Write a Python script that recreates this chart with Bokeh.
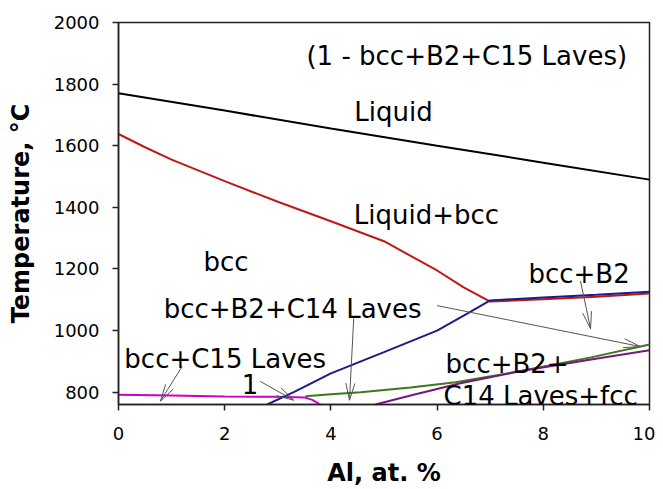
import math
from bokeh.plotting import figure
from bokeh.models import Range1d, FixedTicker, Label
from bokeh.embed import file_html
from bokeh.resources import INLINE

# ---- data ----
liquidus_x = [0, 2, 4, 6, 8, 10]
liquidus_t = [1770, 1714, 1656, 1600, 1545, 1490]

solidus_x = [0, 0.5, 1, 2, 3, 4, 5, 6, 6.5, 7, 8, 9, 10]
solidus_t = [1638, 1595, 1555, 1485, 1418, 1355, 1290, 1195, 1140, 1094, 1102, 1110, 1120]

b2_x = [2.8, 3.3, 4, 5, 6, 6.6, 7, 8, 9, 10]
b2_t = [760, 800, 861, 930, 1000, 1058, 1098, 1107, 1116, 1126]

c15_x = [0, 1, 2, 3, 3.5, 3.65, 3.8]
c15_t = [792, 789, 786, 785, 783, 775, 760]

c14_x = [3.52, 4, 4.56, 5.5, 6.35, 7.5, 8.9, 10]
c14_t = [787, 793, 800, 815, 832, 866, 913, 955]

fcc_x = [4.84, 5.5, 6.44, 7.5, 8.9, 10]
fcc_t = [760, 789, 829, 866, 906, 936]

x_ticks = [0, 2, 4, 6, 8, 10]
y_ticks = [800, 1000, 1200, 1400, 1600, 1800, 2000]

labels_text = ["(1 - bcc+B2+C15 Laves)", "Liquid", "Liquid+bcc", "bcc", "bcc+B2",
               "bcc+B2+C14 Laves", "bcc+C15 Laves", "1", "bcc+B2+", "C14 Laves+fcc"]
labels_x = [3.54, 4.44, 4.43, 1.6, 7.72, 0.85, 0.11, 2.32, 6.16, 6.12]
labels_y = [1892, 1709, 1376, 1221, 1182, 1069, 907, 826, 891, 786]

arrow_x0 = [1.2, 2.67, 4.43, 6.0, 8.7]
arrow_y0 = [884, 835, 1040, 1081, 1161]
arrow_x1 = [0.79, 3.3, 4.35, 9.83, 8.89]
arrow_y1 = [771, 774, 774, 948, 1006]

FONT = "DejaVu Sans"
X0, X1, Y0, Y1 = 0, 10, 760, 2000
W, H = 655, 489
BL, BR, BT, BB = 118, 6, 22, 84

p = figure(width=W, height=H, output_backend="svg", toolbar_location=None,
           x_range=Range1d(X0, X1), y_range=Range1d(Y0, Y1),
           min_border_left=BL, min_border_top=BT, min_border_right=BR, min_border_bottom=BB)
p.background_fill_color = "white"
p.border_fill_color = "white"
p.outline_line_color = "#222222"
p.outline_line_width = 1.5
p.xgrid.visible = False
p.ygrid.visible = False

for ax, ticks in ((p.xaxis, x_ticks), (p.yaxis, y_ticks)):
    ax.ticker = FixedTicker(ticks=ticks)
    ax.minor_tick_line_color = None
    ax.major_tick_out = 6
    ax.major_tick_in = 0
    ax.axis_line_color = "#222222"
    ax.axis_line_width = 1.5
    ax.major_tick_line_color = "#222222"
    ax.major_tick_line_width = 1.5
    ax.major_label_text_font = FONT
    ax.major_label_text_font_size = "18px"
    ax.major_label_text_color = "black"
    ax.axis_label_text_font = FONT
    ax.axis_label_text_font_size = "24px"
    ax.axis_label_text_font_style = "bold"
    ax.axis_label_text_color = "black"

p.xaxis.axis_label = "Al, at. %"
p.yaxis.axis_label = "Temperature, °C"
p.xaxis.major_label_standoff = 16
p.yaxis.major_label_standoff = 13
p.xaxis.axis_label_standoff = 16
p.yaxis.axis_label_standoff = 16

p.line(liquidus_x, liquidus_t, line_color="#000000", line_width=2)
p.line(solidus_x, solidus_t, line_color="#c01818", line_width=2)
p.line(c15_x, c15_t, line_color="#c800c8", line_width=2)
p.line(c14_x, c14_t, line_color="#3a7a1c", line_width=2)
p.line(fcc_x, fcc_t, line_color="#76167e", line_width=2)
p.line(b2_x, b2_t, line_color="#1c1c88", line_width=2)

# arrows: shaft + narrow open head, head computed in screen pixels
sx = (W - BL - BR) / (X1 - X0)
sy = (H - BT - BB) / (Y1 - Y0)
HEAD_LEN, HEAD_HALF = 17.0, 4.5
sx0, sy0, sx1, sy1 = [], [], [], []
for xa, ya, xb, yb in zip(arrow_x0, arrow_y0, arrow_x1, arrow_y1):
    sx0.append(xa); sy0.append(ya); sx1.append(xb); sy1.append(yb)
    dx, dy = (xb - xa) * sx, (yb - ya) * sy
    n = math.hypot(dx, dy)
    ux, uy = dx / n, dy / n
    for side in (1, -1):
        hx = -HEAD_LEN * ux + side * HEAD_HALF * (-uy)
        hy = -HEAD_LEN * uy + side * HEAD_HALF * ux
        sx0.append(xb); sy0.append(yb)
        sx1.append(xb + hx / sx); sy1.append(yb + hy / sy)
p.segment(sx0, sy0, sx1, sy1, line_color="#555555", line_width=1)

for t, x, y in zip(labels_text, labels_x, labels_y):
    p.add_layout(Label(x=x, y=y, text=t, text_font=FONT, text_font_size="26px",
                       text_color="black", text_align="left", text_baseline="alphabetic"))

open("out.html", "w").write(file_html(p, INLINE))
